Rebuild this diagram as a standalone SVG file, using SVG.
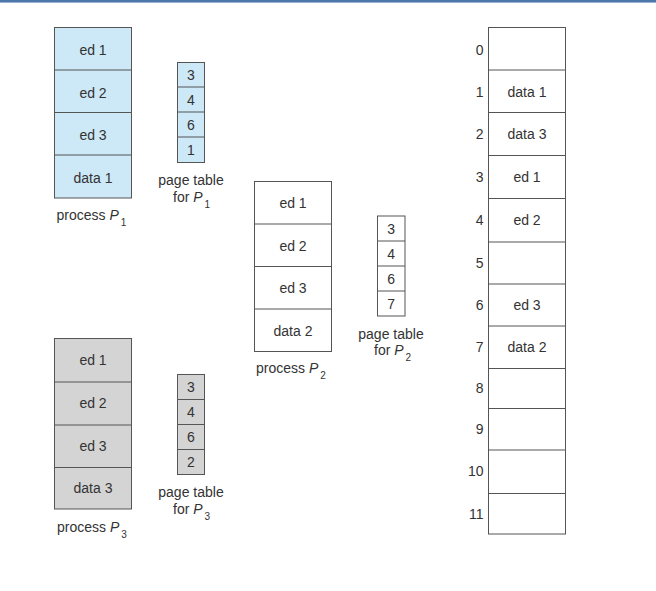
<svg xmlns="http://www.w3.org/2000/svg" width="656" height="591" viewBox="0 0 656 591">
<style>
.t{font-family:"Liberation Sans",Arial,sans-serif;font-size:14px;fill:#333;}
.c{text-anchor:middle;}
.r{text-anchor:end;}
.box{stroke:#555;stroke-width:1;}
.blue{fill:#cde8f6;}
.gray{fill:#d4d4d4;}
.white{fill:#fff;}
.ln{stroke:#555;stroke-width:1;fill:none;}
</style>
<rect x="0" y="0" width="656" height="591" fill="#fff"/>
<rect x="0" y="0" width="656" height="2" fill="#4d76aa"/>
<rect x="0" y="2" width="656" height="1" fill="#9bb3d1"/>

<g id="process-p1">
<rect class="box blue" x="54.5" y="27.5" width="77" height="170.5"/>
<line class="ln" x1="54.5" y1="70" x2="131.5" y2="70"/>
<line class="ln" x1="54.5" y1="112.5" x2="131.5" y2="112.5"/>
<line class="ln" x1="54.5" y1="155" x2="131.5" y2="155"/>
<text class="t c" x="93" y="55">ed 1</text>
<text class="t c" x="93" y="97.5">ed 2</text>
<text class="t c" x="93" y="140">ed 3</text>
<text class="t c" x="93" y="182.5">data 1</text>
<text class="t" x="56.5" y="219.5">process <tspan font-style="italic">P</tspan><tspan font-size="10" dx="2" dy="6">1</tspan></text>
</g>

<g id="pagetable-p1">
<rect class="box blue" x="177.5" y="62.5" width="27" height="100"/>
<line class="ln" x1="177.5" y1="87" x2="204.5" y2="87"/>
<line class="ln" x1="177.5" y1="112" x2="204.5" y2="112"/>
<line class="ln" x1="177.5" y1="137" x2="204.5" y2="137"/>
<text class="t c" x="191" y="80">3</text>
<text class="t c" x="191" y="105">4</text>
<text class="t c" x="191" y="130">6</text>
<text class="t c" x="191" y="155">1</text>
<text class="t c" x="191" y="185">page table</text>
<text class="t" x="173" y="201.5">for <tspan font-style="italic">P</tspan><tspan font-size="10" dx="2" dy="6">1</tspan></text>
</g>

<g id="process-p2">
<rect class="box white" x="254.5" y="181.5" width="77" height="170"/>
<line class="ln" x1="254.5" y1="224" x2="331.5" y2="224"/>
<line class="ln" x1="254.5" y1="266.5" x2="331.5" y2="266.5"/>
<line class="ln" x1="254.5" y1="309" x2="331.5" y2="309"/>
<text class="t c" x="293" y="208">ed 1</text>
<text class="t c" x="293" y="250.5">ed 2</text>
<text class="t c" x="293" y="293">ed 3</text>
<text class="t c" x="293" y="335.5">data 2</text>
<text class="t" x="256" y="373">process <tspan font-style="italic">P</tspan><tspan font-size="10" dx="2" dy="6">2</tspan></text>
</g>

<g id="pagetable-p2">
<rect class="box white" x="377.5" y="216" width="27.5" height="100"/>
<line class="ln" x1="377.5" y1="241" x2="405" y2="241"/>
<line class="ln" x1="377.5" y1="266" x2="405" y2="266"/>
<line class="ln" x1="377.5" y1="291" x2="405" y2="291"/>
<text class="t c" x="391.2" y="233.5">3</text>
<text class="t c" x="391.2" y="258.5">4</text>
<text class="t c" x="391.2" y="283.5">6</text>
<text class="t c" x="391.2" y="308.5">7</text>
<text class="t c" x="391" y="338.5">page table</text>
<text class="t" x="374" y="355">for <tspan font-style="italic">P</tspan><tspan font-size="10" dx="2" dy="6">2</tspan></text>
</g>

<g id="process-p3">
<rect class="box gray" x="54.5" y="338.5" width="77" height="170.5"/>
<line class="ln" x1="54.5" y1="382" x2="131.5" y2="382"/>
<line class="ln" x1="54.5" y1="425" x2="131.5" y2="425"/>
<line class="ln" x1="54.5" y1="467.5" x2="131.5" y2="467.5"/>
<text class="t c" x="93" y="365">ed 1</text>
<text class="t c" x="93" y="408">ed 2</text>
<text class="t c" x="93" y="451">ed 3</text>
<text class="t c" x="93" y="493">data 3</text>
<text class="t" x="57" y="532">process <tspan font-style="italic">P</tspan><tspan font-size="10" dx="2" dy="6">3</tspan></text>
</g>

<g id="pagetable-p3">
<rect class="box gray" x="177.5" y="374.5" width="27" height="100"/>
<line class="ln" x1="177.5" y1="399.5" x2="204.5" y2="399.5"/>
<line class="ln" x1="177.5" y1="424.5" x2="204.5" y2="424.5"/>
<line class="ln" x1="177.5" y1="449.5" x2="204.5" y2="449.5"/>
<text class="t c" x="191" y="392">3</text>
<text class="t c" x="191" y="417">4</text>
<text class="t c" x="191" y="442">6</text>
<text class="t c" x="191" y="467">2</text>
<text class="t c" x="191" y="497">page table</text>
<text class="t" x="173" y="514">for <tspan font-style="italic">P</tspan><tspan font-size="10" dx="2" dy="6">3</tspan></text>
</g>

<g id="memory">
<rect class="box white" x="488.5" y="27.5" width="77" height="506.5"/>
<line class="ln" x1="488.5" y1="70" x2="565.5" y2="70"/>
<line class="ln" x1="488.5" y1="112.5" x2="565.5" y2="112.5"/>
<line class="ln" x1="488.5" y1="155.5" x2="565.5" y2="155.5"/>
<line class="ln" x1="488.5" y1="198.5" x2="565.5" y2="198.5"/>
<line class="ln" x1="488.5" y1="242" x2="565.5" y2="242"/>
<line class="ln" x1="488.5" y1="284" x2="565.5" y2="284"/>
<line class="ln" x1="488.5" y1="326" x2="565.5" y2="326"/>
<line class="ln" x1="488.5" y1="368.5" x2="565.5" y2="368.5"/>
<line class="ln" x1="488.5" y1="408.5" x2="565.5" y2="408.5"/>
<line class="ln" x1="488.5" y1="450" x2="565.5" y2="450"/>
<line class="ln" x1="488.5" y1="493.5" x2="565.5" y2="493.5"/>
<text class="t r" x="483.5" y="55">0</text>
<text class="t r" x="483.5" y="97">1</text>
<text class="t r" x="483.5" y="139">2</text>
<text class="t r" x="483.5" y="182">3</text>
<text class="t r" x="483.5" y="225">4</text>
<text class="t r" x="483.5" y="268">5</text>
<text class="t r" x="483.5" y="310">6</text>
<text class="t r" x="483.5" y="352">7</text>
<text class="t r" x="483.5" y="393">8</text>
<text class="t r" x="483.5" y="434">9</text>
<text class="t r" x="483.5" y="476">10</text>
<text class="t r" x="483.5" y="519">11</text>
<text class="t c" x="527" y="97">data 1</text>
<text class="t c" x="527" y="139">data 3</text>
<text class="t c" x="527" y="182">ed 1</text>
<text class="t c" x="527" y="225">ed 2</text>
<text class="t c" x="527" y="310">ed 3</text>
<text class="t c" x="527" y="352">data 2</text>
</g>
</svg>
